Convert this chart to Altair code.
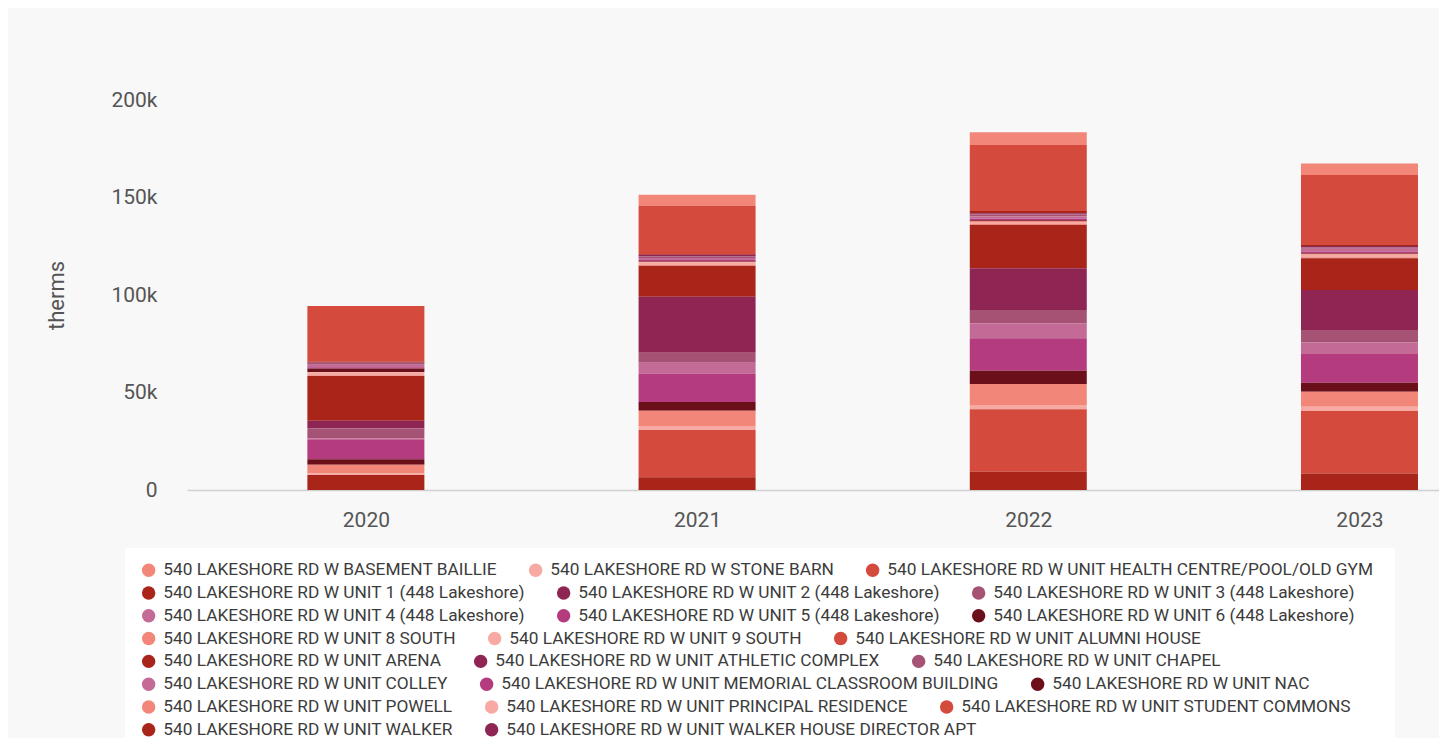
import altair as alt
import pandas as pd

years = [2020, 2021, 2022, 2023]

series = [
    "540 LAKESHORE RD W BASEMENT BAILLIE",
    "540 LAKESHORE RD W STONE BARN",
    "540 LAKESHORE RD W UNIT HEALTH CENTRE/POOL/OLD GYM",
    "540 LAKESHORE RD W UNIT 1 (448 Lakeshore)",
    "540 LAKESHORE RD W UNIT 2 (448 Lakeshore)",
    "540 LAKESHORE RD W UNIT 3 (448 Lakeshore)",
    "540 LAKESHORE RD W UNIT 4 (448 Lakeshore)",
    "540 LAKESHORE RD W UNIT 5 (448 Lakeshore)",
    "540 LAKESHORE RD W UNIT 6 (448 Lakeshore)",
    "540 LAKESHORE RD W UNIT 8 SOUTH",
    "540 LAKESHORE RD W UNIT 9 SOUTH",
    "540 LAKESHORE RD W UNIT ALUMNI HOUSE",
    "540 LAKESHORE RD W UNIT ARENA",
    "540 LAKESHORE RD W UNIT ATHLETIC COMPLEX",
    "540 LAKESHORE RD W UNIT CHAPEL",
    "540 LAKESHORE RD W UNIT COLLEY",
    "540 LAKESHORE RD W UNIT MEMORIAL CLASSROOM BUILDING",
    "540 LAKESHORE RD W UNIT NAC",
    "540 LAKESHORE RD W UNIT POWELL",
    "540 LAKESHORE RD W UNIT PRINCIPAL RESIDENCE",
    "540 LAKESHORE RD W UNIT STUDENT COMMONS",
    "540 LAKESHORE RD W UNIT WALKER",
    "540 LAKESHORE RD W UNIT WALKER HOUSE DIRECTOR APT",
]

# therms per year (2020, 2021, 2022, 2023), in the order of `series`
basement_baillie = [0, 5800, 6500, 6000]
stone_barn = [0, 0, 0, 0]
health_centre = [28600, 24600, 33800, 35900]
unit_1 = [400, 400, 1200, 500]
unit_2 = [600, 800, 600, 600]
unit_3 = [600, 800, 1000, 800]
unit_4 = [1200, 1000, 1200, 1400]
unit_5 = [700, 600, 800, 800]
unit_6 = [1800, 300, 300, 300]
unit_8_south = [200, 400, 600, 500]
unit_9_south = [1700, 1600, 1200, 1600]
alumni_house = [100, 200, 300, 300]
arena = [23000, 15800, 22200, 16200]
athletic_complex = [3900, 28700, 21400, 20500]
chapel = [5100, 5100, 6800, 6400]
colley = [800, 5500, 7700, 6000]
memorial = [9900, 14700, 16600, 14700]
nac = [2900, 4400, 6800, 4600]
powell = [4400, 7900, 10800, 7700]
principal_residence = [800, 2000, 2200, 2200]
student_commons = [0, 24300, 32000, 32000]
walker = [7700, 6500, 9400, 8500]
walker_house_apt = [0, 0, 0, 0]

values = [
    basement_baillie, stone_barn, health_centre, unit_1, unit_2, unit_3,
    unit_4, unit_5, unit_6, unit_8_south, unit_9_south, alumni_house, arena,
    athletic_complex, chapel, colley, memorial, nac, powell,
    principal_residence, student_commons, walker, walker_house_apt,
]

palette = ["#f28779", "#f6aaa3", "#d44a3c", "#a92519", "#8e2553",
           "#a55274", "#c36b96", "#b43c7e", "#6b0f1b"]
colors = [palette[i % len(palette)] for i in range(len(series))]

rows = []
for i, (name, vals) in enumerate(zip(series, values)):
    for y, v in zip(years, vals):
        rows.append({"year": y, "site": name, "therms": v, "idx": i})
df = pd.DataFrame(rows)

FONT = "Roboto"
PER_ROW = 3
ROW_STEP = 22.8
ROW0_Y = 461.5

x_enc = alt.X("year:Q",
              scale=alt.Scale(domain=[2019.475, 2023.225], nice=False, zero=False),
              axis=alt.Axis(values=years, format="d", title=None, grid=False,
                            ticks=False, domain=True, domainColor="#d0d0d0",
                            domainWidth=1.5, labelPadding=19, labelFontSize=21,
                            labelColor="#555555", labelFont=FONT))
y_enc = alt.Y("y0:Q",
              scale=alt.Scale(domain=[0, 200000], nice=False),
              axis=alt.Axis(values=[0, 50000, 100000, 150000, 200000],
                            labelExpr="datum.value == 0 ? '0' : format(datum.value, '~s')",
                            title="therms", grid=False, ticks=False,
                            domain=False, labelPadding=30, labelFontSize=21,
                            labelColor="#555555", labelFont=FONT,
                            titleFont=FONT, titleFontSize=22,
                            titleFontWeight="normal", titleColor="#555555",
                            titleAngle=-90, titleAlign="center",
                            titleBaseline="middle", titleX=-131, titleY=195))

base = alt.Chart(df).transform_stack(
    stack="therms", groupby=["year"], as_=["y0", "y1"],
    sort=[alt.SortField("idx", order="descending")],
)

# white legend panel (decoration)
panel = alt.Chart(pd.DataFrame({"p": [0]})).mark_rect(
    color="#ffffff"
).encode(x=alt.value(-62), x2=alt.value(1208),
         y=alt.value(448), y2=alt.value(660))

layers = [panel]
for r in range(0, len(series), PER_ROW):
    row_names = series[r:r + PER_ROW]
    row_colors = colors[r:r + PER_ROW]
    row_no = r // PER_ROW
    layers.append(
        base.transform_filter(
            alt.FieldOneOfPredicate(field="site", oneOf=row_names)
        ).mark_bar(size=117).encode(
            x=x_enc,
            y=y_enc,
            y2="y1:Q",
            color=alt.Color("site:N", sort=row_names,
                            scale=alt.Scale(domain=row_names, range=row_colors),
                            legend=alt.Legend(title=None, orient="none",
                                              legendX=-47,
                                              legendY=ROW0_Y + ROW_STEP * row_no,
                                              direction="horizontal",
                                              symbolType="circle", symbolSize=180,
                                              symbolStrokeWidth=0, symbolOpacity=1,
                                              labelFont=FONT, labelFontSize=17.3,
                                              labelColor="#3c3c3c", labelLimit=0,
                                              labelOffset=6, columnPadding=30,
                                              padding=0)),
        )
    )

chart = alt.layer(*layers).resolve_scale(color="independent").properties(
    width=1252,
    height=390,
    autosize=alt.AutoSizeParams(type="none"),
    padding={"left": 179, "top": 92, "right": 0, "bottom": 248},
    background="#f8f8f8",
).configure_view(stroke=None)

chart.save("out.html", embed_options={"renderer": "svg", "actions": False})
